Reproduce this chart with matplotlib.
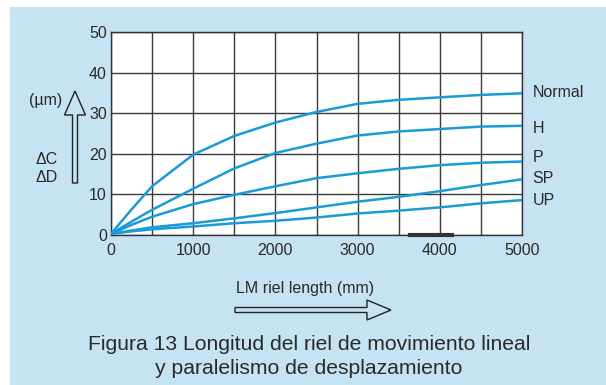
import matplotlib.pyplot as plt
from matplotlib.patches import Rectangle, FancyArrow

plt.rcParams['font.family'] = ['Liberation Sans', 'DejaVu Sans']

# data
length_mm = [0, 250, 500, 1000, 1500, 2000, 2500, 3000, 3500, 4000, 4500, 5000]
normal = [0.3, 6.3, 12.0, 19.8, 24.4, 27.7, 30.3, 32.3, 33.3, 33.9, 34.5, 34.9]
grade_h = [0.3, 3.3, 6.2, 11.4, 16.4, 20.2, 22.5, 24.5, 25.5, 26.1, 26.7, 26.9]
grade_p = [0.3, 2.5, 4.5, 7.6, 9.9, 12.0, 14.0, 15.2, 16.3, 17.2, 17.8, 18.1]
grade_sp = [0.3, 1.1, 1.9, 2.9, 4.1, 5.4, 6.8, 8.2, 9.4, 10.8, 12.3, 13.7]
grade_up = [0.3, 0.9, 1.4, 2.1, 2.9, 3.5, 4.3, 5.3, 6.0, 6.8, 7.8, 8.6]
series = [normal, grade_h, grade_p, grade_sp, grade_up]
labels = ['Normal', 'H', 'P', 'SP', 'UP']
label_y = [35, 26.3, 19.0, 14.0, 8.6]

bg = '#c5e3f3'
blue = '#1a9ad6'
txt = '#2a2a2a'
W, H = 606, 385

fig = plt.figure(figsize=(W / 100, H / 100), dpi=100, facecolor='white')
fig.patches.append(Rectangle((10 / W, 0), 1, 1 - 7 / H, transform=fig.transFigure,
                             facecolor=bg, edgecolor='none', zorder=-10))

ax = fig.add_axes([111 / W, 1 - 235 / H, 411 / W, 203 / H])
ax.set_facecolor('white')
for s in series:
    ax.plot(length_mm, s, color=blue, lw=1.8, solid_capstyle='butt', zorder=3)

ax.set_xlim(0, 5000)
ax.set_ylim(0, 50)
ax.set_xticks(range(0, 5001, 1000))
ax.set_xticks(range(500, 5000, 1000), minor=True)
ax.set_yticks(range(0, 51, 10))
ax.grid(True, which='both', color='#3a3a3a', lw=1.0)
ax.tick_params(which='both', length=0, labelsize=11.5, colors=txt, pad=3)
ax.tick_params(axis='x', pad=5.5)
for sp in ax.spines.values():
    sp.set_color('#333333')
    sp.set_linewidth(1.0)
ax.axhline(0, xmin=0.727, xmax=0.829, color='#333333', lw=3, zorder=4, clip_on=False)

for lab, y in zip(labels, label_y):
    ax.text(5130, y, lab, fontsize=11.5, color=txt, va='center', ha='left', clip_on=False)

# overlay in pixel units for the annotations
ov = fig.add_axes([0, 0, 1, 1], facecolor='none')
ov.set_xlim(0, W)
ov.set_ylim(H, 0)
ov.axis('off')

ov.text(29, 100, '(\u00b5m)', fontsize=11.5, color=txt, ha='left', va='center')
ov.text(36, 159, '\u0394C', fontsize=11.5, color=txt, ha='left', va='center')
ov.text(36, 177, '\u0394D', fontsize=11.5, color=txt, ha='left', va='center')
ov.add_patch(FancyArrow(75, 183, 0, -92, width=5, head_width=21, head_length=24,
                        length_includes_head=True, facecolor='none',
                        edgecolor='#222222', lw=1.0))

ov.text(305, 288, 'LM riel length (mm)', fontsize=11.5, color=txt, ha='center', va='center')
ov.add_patch(FancyArrow(235, 310, 156, 0, width=5, head_width=20, head_length=24,
                        length_includes_head=True, facecolor='none',
                        edgecolor='#222222', lw=1.0))

ov.text(309, 345, 'Figura 13 Longitud del riel de movimiento lineal',
        fontsize=15.2, color=txt, ha='center', va='center')
ov.text(309, 369, 'y paralelismo de desplazamiento',
        fontsize=15.2, color=txt, ha='center', va='center')

fig.savefig('out.png', dpi=100, facecolor=fig.get_facecolor())
